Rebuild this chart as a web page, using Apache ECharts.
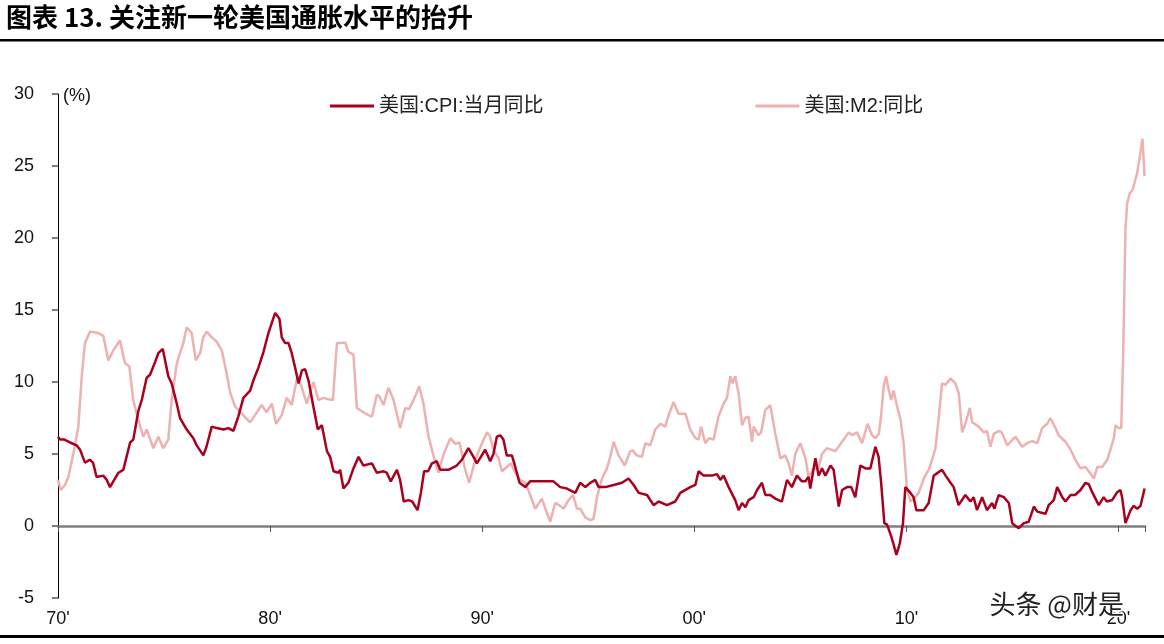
<!DOCTYPE html>
<html>
<head>
<meta charset="utf-8">
<script src="https://cdn.jsdelivr.net/npm/echarts@6/dist/echarts.min.js"></script>
<style>
html,body{margin:0;padding:0;background:#fff;}
#chart{width:1164px;height:644px;}
</style>
</head>
<body>
<div id="chart"></div>
<script>
// 美国 CPI 当月同比 (年份, %)
var cpiYears = [1970.00,1970.10,1970.30,1970.57,1970.88,1971.04,1971.27,1971.50,1971.65,1971.82,1972.13,1972.30,1972.45,1972.65,1972.85,1973.08,1973.40,1973.55,1973.79,1973.95,1974.18,1974.34,1974.58,1974.73,1974.94,1975.20,1975.36,1975.60,1975.75,1976.07,1976.38,1976.54,1976.85,1977.00,1977.25,1977.48,1977.80,1978.03,1978.27,1978.50,1978.74,1979.06,1979.21,1979.45,1979.69,1979.92,1980.08,1980.24,1980.44,1980.55,1980.71,1980.87,1981.02,1981.18,1981.34,1981.50,1981.65,1981.81,1982.04,1982.25,1982.44,1982.68,1982.83,1982.99,1983.22,1983.30,1983.46,1983.69,1983.93,1984.17,1984.40,1984.80,1985.03,1985.35,1985.50,1985.69,1985.98,1986.13,1986.30,1986.52,1986.70,1986.95,1987.11,1987.26,1987.45,1987.63,1987.86,1988.02,1988.41,1988.80,1989.04,1989.35,1989.59,1989.75,1989.98,1990.14,1990.38,1990.53,1990.69,1990.85,1991.00,1991.16,1991.40,1991.56,1991.76,1992.03,1992.26,1992.74,1993.05,1993.36,1993.68,1993.99,1994.39,1994.62,1994.86,1995.10,1995.33,1995.49,1995.80,1996.20,1996.59,1996.90,1997.14,1997.38,1997.77,1998.08,1998.32,1998.71,1999.10,1999.34,1999.81,2000.05,2000.20,2000.44,2000.83,2001.07,2001.23,2001.38,2001.62,2001.93,2002.09,2002.25,2002.41,2002.56,2002.80,2002.96,2003.19,2003.35,2003.58,2003.82,2004.13,2004.37,2004.60,2004.84,2005.07,2005.23,2005.39,2005.47,2005.71,2005.86,2006.02,2006.18,2006.42,2006.57,2006.81,2006.97,2007.20,2007.40,2007.59,2007.83,2008.07,2008.30,2008.54,2008.69,2008.81,2008.96,2009.09,2009.28,2009.40,2009.53,2009.69,2009.84,2009.95,2010.19,2010.34,2010.47,2010.82,2011.05,2011.29,2011.68,2011.85,2012.08,2012.23,2012.46,2012.78,2013.02,2013.17,2013.33,2013.57,2013.80,2014.04,2014.15,2014.35,2014.59,2014.83,2014.99,2015.14,2015.30,2015.54,2015.77,2016.01,2016.17,2016.56,2016.71,2016.95,2017.11,2017.35,2017.50,2017.74,2017.95,2018.21,2018.44,2018.60,2018.76,2019.07,2019.30,2019.45,2019.70,2019.94,2020.09,2020.17,2020.33,2020.41,2020.57,2020.72,2020.88,2021.04,2021.23];
var cpiValues = [6.2,6.0,6.0,5.8,5.6,5.3,4.4,4.6,4.4,3.4,3.5,3.2,2.7,3.2,3.7,3.9,5.8,6.0,8.0,8.75,10.3,10.5,11.4,12.0,12.3,10.4,9.9,8.5,7.5,6.7,6.1,5.6,4.9,5.5,6.9,6.8,6.7,6.8,6.6,7.6,8.9,9.4,10.1,11.0,12.1,13.4,14.1,14.8,14.4,13.1,12.7,12.7,12.0,11.0,9.9,10.8,10.9,10.1,8.3,6.7,7.0,5.2,4.8,3.8,3.7,3.9,2.6,3.0,4.0,4.8,4.2,4.35,3.7,3.8,3.7,3.1,3.9,3.2,1.7,1.8,1.7,1.1,2.3,3.8,3.8,4.35,4.5,3.9,3.9,4.2,4.6,5.4,4.8,4.35,4.9,5.3,4.5,5.0,6.2,6.3,6.0,4.9,4.9,4.1,3.0,2.7,3.1,3.1,3.1,3.1,2.7,2.6,2.3,3.0,2.7,3.0,3.2,2.7,2.7,2.85,3.0,3.3,2.85,2.3,2.15,1.45,1.7,1.45,1.7,2.3,2.7,2.85,3.8,3.5,3.5,3.6,3.2,3.5,2.7,1.8,1.1,1.6,1.3,1.8,2.0,2.5,3.0,2.15,2.15,1.9,1.7,3.2,2.7,3.5,3.1,3.1,3.4,2.6,4.7,3.5,4.0,3.5,4.2,3.9,1.35,2.5,2.7,2.7,2.0,4.2,4.0,4.0,5.5,4.8,3.0,0.2,0.1,-0.7,-1.3,-2.0,-1.2,0.2,2.7,2.3,2.0,1.1,1.1,1.6,3.5,3.9,3.5,3.0,2.7,1.45,2.15,1.7,2.0,1.1,2.0,1.1,1.6,1.2,2.15,2.0,1.6,0.2,0.0,-0.15,0.2,0.3,1.35,1.0,0.85,1.45,1.8,2.7,2.0,1.7,2.15,2.15,2.5,3.0,2.9,2.35,1.45,2.0,1.7,1.8,2.35,2.5,2.0,0.2,0.15,1.1,1.4,1.2,1.4,2.6];

// 美国 M2 同比 (年份, %)
var m2Years = [1970.00,1970.13,1970.33,1970.49,1970.72,1970.96,1971.12,1971.27,1971.51,1971.90,1972.14,1972.37,1972.61,1972.92,1973.16,1973.36,1973.55,1973.74,1974.02,1974.18,1974.50,1974.73,1974.97,1975.20,1975.36,1975.60,1975.75,1975.91,1976.07,1976.30,1976.50,1976.70,1976.85,1977.01,1977.25,1977.48,1977.72,1977.95,1978.11,1978.35,1978.66,1979.06,1979.29,1979.60,1979.84,1980.08,1980.28,1980.55,1980.78,1981.02,1981.18,1981.29,1981.50,1981.73,1982.04,1982.28,1982.51,1982.75,1982.96,1983.15,1983.30,1983.54,1983.69,1983.93,1984.09,1984.40,1984.64,1984.80,1985.03,1985.15,1985.35,1985.58,1985.82,1986.13,1986.37,1986.55,1986.84,1987.03,1987.23,1987.47,1987.70,1987.94,1988.18,1988.50,1988.73,1988.93,1989.20,1989.39,1989.67,1989.99,1990.22,1990.35,1990.53,1990.77,1990.93,1991.16,1991.35,1991.56,1991.79,1992.03,1992.26,1992.50,1992.81,1993.05,1993.21,1993.44,1993.68,1993.84,1994.07,1994.28,1994.47,1994.62,1994.86,1995.10,1995.25,1995.41,1995.65,1995.88,1996.04,1996.20,1996.43,1996.72,1996.98,1997.10,1997.29,1997.53,1997.69,1997.92,1998.16,1998.40,1998.63,1998.79,1999.02,1999.26,1999.58,1999.81,2000.05,2000.20,2000.32,2000.52,2000.70,2000.91,2001.14,2001.38,2001.54,2001.70,2001.80,2001.93,2002.09,2002.25,2002.40,2002.56,2002.72,2002.80,2003.03,2003.15,2003.35,2003.58,2003.82,2004.06,2004.29,2004.45,2004.60,2004.76,2005.00,2005.24,2005.39,2005.63,2005.85,2006.02,2006.25,2006.65,2006.97,2007.28,2007.45,2007.67,2007.91,2008.17,2008.38,2008.54,2008.70,2008.81,2008.93,2009.04,2009.16,2009.28,2009.40,2009.53,2009.72,2009.87,2010.03,2010.19,2010.42,2010.58,2010.82,2011.05,2011.21,2011.37,2011.53,2011.68,2011.84,2012.08,2012.31,2012.47,2012.63,2012.78,2012.99,2013.10,2013.41,2013.65,2013.80,2013.96,2014.12,2014.35,2014.50,2014.75,2014.91,2015.14,2015.46,2015.69,2015.93,2016.17,2016.40,2016.64,2016.79,2017.03,2017.18,2017.50,2017.74,2017.97,2018.21,2018.44,2018.60,2018.84,2019.00,2019.23,2019.47,2019.62,2019.78,2019.86,2020.01,2020.13,2020.22,2020.33,2020.41,2020.53,2020.65,2020.75,2020.88,2021.00,2021.13,2021.23];
var m2Values = [3.2,2.5,2.85,3.4,5.0,6.9,10.4,12.7,13.5,13.4,13.2,11.5,12.2,12.9,11.3,11.1,8.75,7.6,6.2,6.7,5.4,6.2,5.4,6.0,8.75,11.3,12.0,12.7,13.8,13.4,11.5,12.0,13.1,13.5,13.1,12.8,12.2,10.6,9.3,8.3,7.8,7.2,7.7,8.4,7.9,8.5,7.1,7.7,8.9,8.4,9.6,10.4,9.6,8.5,10.0,8.75,8.9,8.8,8.75,12.7,12.7,12.75,12.1,11.9,8.2,7.9,7.7,7.6,9.1,9.0,8.4,9.6,8.75,6.8,8.2,8.1,9.0,9.7,8.5,6.2,4.9,3.7,5.0,6.1,5.7,5.8,3.9,3.0,4.6,5.75,6.5,6.3,5.3,4.7,3.8,4.1,4.35,3.7,3.2,3.0,2.15,1.2,1.9,0.9,0.3,1.6,1.4,1.2,1.8,2.15,1.2,1.2,0.6,0.4,0.5,2.0,3.3,4.0,4.8,5.85,4.9,4.2,5.2,5.25,4.9,4.8,5.75,5.6,6.7,7.1,6.9,7.7,8.6,7.8,7.8,6.7,6.1,6.0,6.9,5.75,6.1,6.0,7.6,8.5,8.9,10.4,9.9,10.4,9.2,7.0,7.5,7.6,5.85,6.9,6.3,6.5,8.05,8.4,6.4,4.7,4.9,4.35,3.5,5.0,5.75,4.7,3.4,4.0,4.0,5.0,5.4,5.2,5.85,6.5,6.3,6.5,5.75,7.1,6.3,6.1,6.4,7.7,9.7,10.4,9.5,8.75,9.4,8.5,7.4,5.75,2.5,1.7,2.0,2.3,3.3,3.9,4.6,5.4,7.6,9.9,9.8,10.25,9.9,9.2,6.5,7.1,8.2,7.2,6.9,6.5,6.6,5.5,6.4,6.6,6.5,5.6,5.85,6.2,5.5,5.75,5.9,5.75,6.8,7.1,7.5,6.8,6.3,5.85,5.3,4.6,4.0,4.1,3.8,3.3,4.1,4.1,4.6,5.3,6.1,7.0,6.8,6.8,11.8,20.6,22.4,23.1,23.3,23.8,24.5,25.6,26.9,24.3];

var xTickLabels = ["70'", "80'", "90'", "00'", "10'", "20'"];
var seriesNames = ['美国:CPI:当月同比', '美国:M2:同比'];

function pairs(xs, ys) {
    var out = [];
    for (var i = 0; i < xs.length; i++) {
        out.push([xs[i], ys[i]]);
    }
    return out;
}

var baseFont = '"Liberation Sans", "Noto Sans CJK SC", sans-serif';
var cpiColor = '#A8001E';
var m2Color = '#EDB1B1';

var myChart = echarts.init(document.getElementById('chart'));
var option = {
    backgroundColor: '#fff',
    animation: false,
    textStyle: { fontFamily: baseFont },
    legend: {
        data: seriesNames,
        left: 325,
        top: 91,
        icon: 'rect',
        itemWidth: 44,
        itemHeight: 3,
        itemGap: 212,
        textStyle: { fontSize: 20, color: '#222', fontFamily: baseFont }
    },
    grid: { left: 58, right: 19, top: 94, bottom: 46 },
    xAxis: [
        {
            type: 'value',
            min: 1970,
            max: 2021.25,
            interval: 10,
            splitLine: { show: false },
            axisLine: { show: false, onZero: false },
            axisTick: { show: false },
            axisLabel: {
                margin: 12,
                fontSize: 18,
                color: '#111',
                showMaxLabel: false,
                formatter: function (v) {
                    return xTickLabels[Math.round((v - 1970) / 10)] || '';
                }
            }
        },
        {
            type: 'value',
            position: 'bottom',
            min: 1970,
            max: 2021.25,
            interval: 10,
            splitLine: { show: false },
            axisLine: { show: true, onZero: true, lineStyle: { color: '#7f7f7f', width: 2.5 } },
            axisTick: { show: true, length: 6, lineStyle: { color: '#555', width: 1 } },
            axisLabel: { show: false }
        }
    ],
    yAxis: {
        type: 'value',
        min: -5,
        max: 30,
        interval: 5,
        splitLine: { show: false },
        axisLine: { show: true, onZero: false, lineStyle: { color: '#000', width: 1 } },
        axisTick: { show: true, length: 6, lineStyle: { color: '#7f7f7f', width: 2 } },
        axisLabel: { margin: 24, fontSize: 18, color: '#111' }
    },
    graphic: [
        {
            type: 'text', left: 6, top: 4,
            style: { text: '图表 13. 关注新一轮美国通胀水平的抬升', fill: '#000', font: 'bold 26px "Noto Sans CJK SC", sans-serif' }
        },
        {
            type: 'rect', left: 0, top: 39,
            shape: { width: 1164, height: 2.5 },
            style: { fill: '#000' }
        },
        {
            type: 'rect', left: 0, top: 635,
            shape: { width: 1164, height: 3 },
            style: { fill: '#000' }
        },
        {
            type: 'text', left: 63, top: 87,
            style: { text: '(%)', fontSize: 18, fill: '#111', fontFamily: baseFont }
        },
        {
            type: 'text', left: 988, top: 590, z: 100,
            style: { text: '头条 @财是', fontSize: 26, fill: '#222', stroke: '#fff', lineWidth: 3, fontFamily: '"Noto Sans CJK SC", sans-serif' }
        }
    ],
    series: [
        {
            name: seriesNames[1],
            type: 'line',
            xAxisIndex: 0,
            showSymbol: false,
            symbol: 'none',
            itemStyle: { color: m2Color },
            lineStyle: { color: m2Color, width: 2.5 },
            data: pairs(m2Years, m2Values)
        },
        {
            name: seriesNames[0],
            type: 'line',
            xAxisIndex: 0,
            showSymbol: false,
            symbol: 'none',
            itemStyle: { color: cpiColor },
            lineStyle: { color: cpiColor, width: 2.5 },
            data: pairs(cpiYears, cpiValues)
        }
    ]
};
myChart.setOption(option);
</script>
</body>
</html>
